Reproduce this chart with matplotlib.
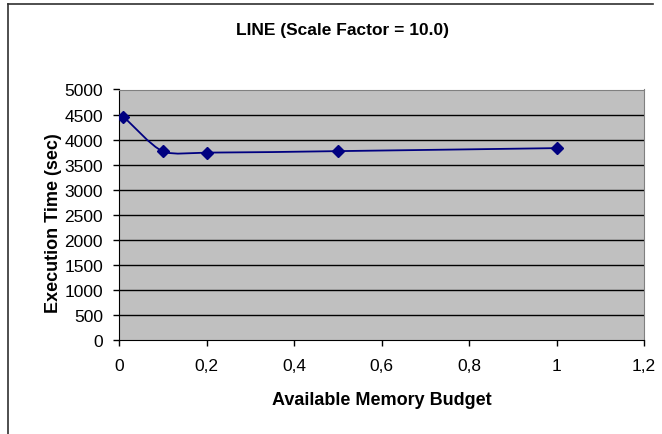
import matplotlib
matplotlib.use("Agg")
import matplotlib.pyplot as plt
from matplotlib.path import Path
from matplotlib.patches import PathPatch
from matplotlib.lines import Line2D
import numpy as np

plt.rcParams['font.family'] = ['Liberation Sans', 'DejaVu Sans']

# Execution time vs. available memory budget
budget = [0.01, 0.1, 0.2, 0.5, 1.0]
exec_time = [4460, 3765, 3740, 3770, 3830]

title = "LINE (Scale Factor = 10.0)"
x_label = "Available Memory Budget"
y_label = "Execution Time (sec)"
x_ticks = [0, 0.2, 0.4, 0.6, 0.8, 1.0, 1.2]
x_tick_labels = ["0", "0,2", "0,4", "0,6", "0,8", "1", "1,2"]
y_ticks = list(range(0, 5001, 500))

navy = "#000080"

fig = plt.figure(figsize=(6.62, 4.35), dpi=100)
W, H = 662, 435
ax = fig.add_axes([119 / W, 1 - 341 / H, (644 - 119) / W, (341 - 90.5) / H])

# chart frame (left and top edges)
fig.add_artist(Line2D([8 / W, 8 / W], [0, 1 - 5 / H], transform=fig.transFigure,
                      color="#303030", lw=1.2))
fig.add_artist(Line2D([8 / W, 653 / W], [1 - 5 / H, 1 - 5 / H], transform=fig.transFigure,
                      color="#303030", lw=1.2))

ax.set_facecolor("#C0C0C0")
ax.set_xlim(0, 1.2)
ax.set_ylim(0, 5000)
ax.set_yticks(y_ticks)
ax.set_yticklabels([str(v) for v in y_ticks])
ax.set_xticks(x_ticks)
ax.set_xticklabels(x_tick_labels)
ax.tick_params(direction="out", length=4, width=1, labelsize=12.5, colors="black", pad=7.5)
ax.tick_params(axis="x", pad=9)
for yv in y_ticks[1:-1]:
    ax.axhline(yv, color="black", lw=1, zorder=1)
ax.spines["left"].set_color("black")
ax.spines["bottom"].set_color("black")
ax.spines["top"].set_color("#808080")
ax.spines["right"].set_color("#808080")

# smoothed curve through the points: cubic Bezier with tangent lengths
# weighted by the neighbouring segment lengths, in normalised screen space
xlo, xhi = ax.get_xlim()
ylo, yhi = ax.get_ylim()
aspect = (341 - 90.5) / (644 - 119)
pts = np.column_stack([(np.array(budget) - xlo) / (xhi - xlo),
                       (np.array(exec_time) - ylo) / (yhi - ylo) * aspect])
n = len(pts)


def tangent(i, toward_next):
    prev_p = pts[i - 1] if i > 0 else pts[i]
    next_p = pts[i + 1] if i + 1 < n else pts[i]
    d = next_p - prev_p
    if i == 0 or i == n - 1:
        return d / 6.0
    l_prev = np.linalg.norm(pts[i] - prev_p)
    l_next = np.linalg.norm(next_p - pts[i])
    w = (l_next if toward_next else l_prev) / (l_prev + l_next)
    return d * w / 4.0


verts = [pts[0]]
codes = [Path.MOVETO]
for i in range(n - 1):
    c1 = pts[i] + tangent(i, True)
    c2 = pts[i + 1] - tangent(i + 1, False)
    verts += [c1, c2, pts[i + 1]]
    codes += [Path.CURVE4] * 3
verts = np.array(verts)
verts_data = np.column_stack([xlo + verts[:, 0] * (xhi - xlo),
                              ylo + verts[:, 1] / aspect * (yhi - ylo)])
curve = PathPatch(Path(verts_data, codes), transform=ax.transData, facecolor="none",
                  edgecolor=navy, lw=1.3, zorder=3)
ax.add_patch(curve)
ax.plot(budget, exec_time, linestyle="none", marker="D", markersize=6.5,
        color=navy, zorder=4)

fig.text(343 / W, 1 - 31 / H, title, ha="center", va="center",
         fontsize=12.5, fontweight="bold")
ax.set_xlabel(x_label, fontsize=13, fontweight="bold")
ax.xaxis.set_label_coords(0.5, (341 - 401) / (341 - 90.5), transform=ax.transAxes)
ax.xaxis.label.set_va("center")
ax.set_ylabel(y_label, fontsize=13, fontweight="bold")
ax.yaxis.set_label_coords((54 - 119) / (644 - 119), 0.47, transform=ax.transAxes)
ax.yaxis.label.set_va("center")

fig.savefig("out.png", dpi=100, facecolor="white")
